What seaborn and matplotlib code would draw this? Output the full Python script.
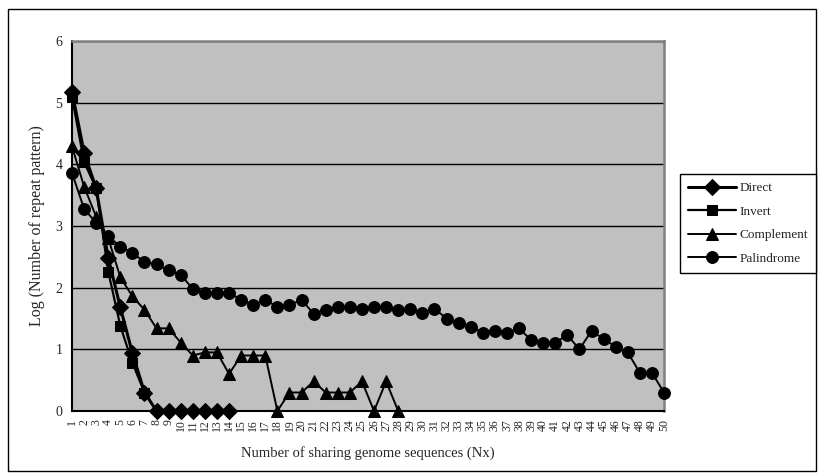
import numpy as np
import pandas as pd
import matplotlib
matplotlib.use("Agg")
import matplotlib.pyplot as plt
import seaborn as sns
from matplotlib.patches import Rectangle

# log10 of repeat-pattern counts per number of sharing genome sequences
nx = list(range(1, 51))
direct = [5.18, 4.19, 3.61, 2.48, 1.68, 0.94, 0.30, 0, 0, 0, 0, 0, 0, 0]
invert = [5.09, 4.04, 3.61, 2.26, 1.38, 0.78, 0.30]
complement = [4.29, 3.64, 3.15, 2.80, 2.17, 1.86, 1.64, 1.34, 1.34, 1.11,
              0.90, 0.95, 0.95, 0.60, 0.90, 0.90, 0.90, 0, 0.30, 0.30,
              0.48, 0.30, 0.30, 0.30, 0.48, 0, 0.48, 0]
palindrome = [3.86, 3.28, 3.05, 2.84, 2.66, 2.57, 2.41, 2.38, 2.28, 2.21,
              1.98, 1.92, 1.92, 1.92, 1.80, 1.72, 1.80, 1.69, 1.72, 1.80,
              1.58, 1.64, 1.69, 1.69, 1.66, 1.69, 1.69, 1.63, 1.66, 1.59,
              1.66, 1.50, 1.43, 1.37, 1.27, 1.30, 1.27, 1.34, 1.15, 1.11,
              1.11, 1.23, 1.00, 1.30, 1.17, 1.04, 0.95, 0.62, 0.62, 0.30]
series_names = ["Direct", "Invert", "Complement", "Palindrome"]
series_vals = [direct, invert, complement, palindrome]
y_ticks = [0, 1, 2, 3, 4, 5, 6]

sns.set_style("white")
plt.rcParams["font.family"] = ["Liberation Serif", "DejaVu Serif"]

fig = plt.figure(figsize=(8.18, 4.74), dpi=100)
W, H = 818, 474
ax = fig.add_axes([72 / W, (H - 411) / H, 592 / W, 370 / H])
ax.set_facecolor("#C0C0C0")

styles = {
    "Direct": dict(marker="D", ms=8, lw=2.2),
    "Invert": dict(marker="s", ms=7, lw=1.6),
    "Complement": dict(marker="^", ms=8.5, lw=1.4),
    "Palindrome": dict(marker="o", ms=8.5, lw=1.4),
}

for name, vals in zip(series_names, series_vals):
    df = pd.DataFrame({"Nx": nx[:len(vals)], "value": vals})
    st = styles[name]
    sns.lineplot(data=df, x="Nx", y="value", ax=ax, color="black",
                 marker=st["marker"], markersize=st["ms"], linewidth=st["lw"],
                 markeredgecolor="black", markerfacecolor="black",
                 label=name, legend=False, zorder=3, clip_on=False)

ax.set_xlim(1, 50)
ax.set_ylim(0, 6)
ax.set_yticks(y_ticks)
ax.set_xticks(nx)
ax.set_xticklabels([str(v) for v in nx], rotation=90, fontsize=8.5)
ax.tick_params(axis="x", direction="in", length=3, width=1, color="black", pad=6)
ax.tick_params(axis="y", length=0, pad=7, labelsize=10)
ax.yaxis.grid(True, color="black", linewidth=1)
ax.set_axisbelow(True)

for s in ["left", "bottom"]:
    ax.spines[s].set_color("black")
    ax.spines[s].set_linewidth(1.5)
for s in ["top", "right"]:
    ax.spines[s].set_color("#808080")
    ax.spines[s].set_linewidth(1.8)

ax.set_xlabel("Number of sharing genome sequences (Nx)", fontsize=10.5)
ax.set_ylabel("Log (Number of repeat pattern)", fontsize=11.5)
ax.xaxis.label.set_va("center")
ax.yaxis.label.set_va("center")
ax.xaxis.set_label_coords(0.5, (411 - 453) / 370)
ax.yaxis.set_label_coords((37 - 72) / 592, 0.5)

handles, labels = ax.get_legend_handles_labels()
leg = fig.legend(handles, labels, loc="center",
                 bbox_to_anchor=(748 / W, 1 - 223.5 / H),
                 fontsize=9.5, frameon=True, fancybox=False, shadow=False,
                 edgecolor="black", handlelength=3.6, handletextpad=0.3,
                 labelspacing=0.85, borderpad=0.6, borderaxespad=0)
leg.get_frame().set_linewidth(1)
leg.get_frame().set_facecolor("white")
leg.get_frame().set_alpha(1)

fig.patches.append(Rectangle((8 / W, 1 - 471 / H), (816 - 8) / W, (471 - 9) / H,
                             transform=fig.transFigure, fill=False,
                             edgecolor="black", linewidth=1))

fig.savefig("out.png", dpi=100)
